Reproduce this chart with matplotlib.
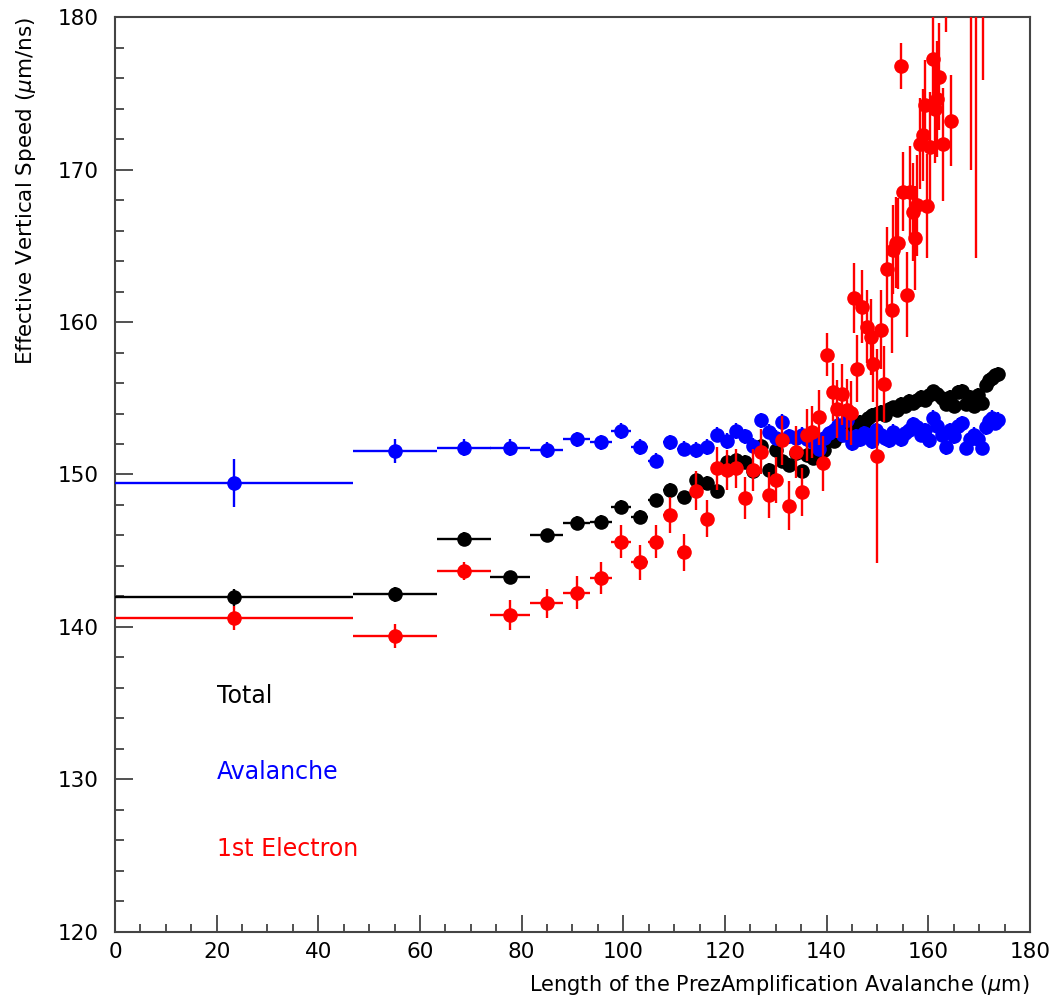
import matplotlib
matplotlib.use("Agg")
import matplotlib.pyplot as plt
from matplotlib.ticker import MultipleLocator

plt.rcParams['font.family'] = ['DejaVu Sans']

# Shared binning for "Total" and "Avalanche" (bin centres, um)
x_bins = [23.4, 55.05, 68.6, 77.7, 84.9, 90.8, 95.6, 99.6, 103.2, 106.4,
          109.2, 111.9, 114.3, 116.4, 118.4, 120.3, 122.2, 123.9, 125.6, 127.0,
          128.6, 130.0, 131.3, 132.6, 133.9, 135.1, 136.2, 137.3, 138.4, 139.4,
          140.4, 141.4, 142.3, 143.2, 144.1, 145.0, 145.8, 146.6, 147.4, 148.2,
          149.0, 149.8, 150.6, 151.4, 152.2, 153.0, 153.8, 154.6, 155.4, 156.2,
          157.0, 157.8, 158.6, 159.4, 160.2, 161.0, 161.8, 162.6, 163.4, 164.2,
          165.0, 165.8, 166.6, 167.4, 168.2, 169.0, 169.8, 170.6, 171.4, 172.0,
          172.6, 173.2, 173.7]
# Half bin widths
x_half = [23.4, 8.25, 5.3, 3.85, 3.3, 2.6, 2.2, 1.95, 1.7, 1.5,
          1.4, 1.3, 1.1, 1.0, 0.95, 0.9, 0.9, 0.85, 0.8, 0.75,
          0.7, 0.7, 0.65, 0.65, 0.6, 0.6, 0.55, 0.55, 0.5, 0.5,
          0.5, 0.5, 0.45, 0.45, 0.45, 0.45, 0.4, 0.4, 0.4, 0.4,
          0.4, 0.4, 0.4, 0.4, 0.4, 0.4, 0.4, 0.4, 0.4, 0.4,
          0.4, 0.4, 0.4, 0.4, 0.4, 0.4, 0.4, 0.4, 0.4, 0.4,
          0.4, 0.4, 0.4, 0.4, 0.4, 0.4, 0.4, 0.4, 0.35, 0.3,
          0.3, 0.3, 0.25]

total_speed = [141.95, 142.15, 145.8, 143.25, 146.0, 146.8, 146.9, 147.9, 147.2, 148.3,
               149.0, 148.5, 149.65, 149.45, 148.95, 150.8, 150.95, 150.8, 150.2, 151.9,
               150.3, 151.6, 150.9, 150.6, 151.4, 150.2, 151.3, 151.1, 151.05, 151.6,
               152.3, 152.2, 152.5, 152.7, 152.9, 153.3, 152.9, 153.45, 153.4, 153.7,
               153.9, 154.0, 154.1, 153.9, 154.3, 154.4, 154.2, 154.6, 154.5, 154.8,
               154.7, 154.9, 155.1, 154.9, 155.2, 155.45, 155.3, 155.0, 154.6, 155.1,
               154.5, 155.4, 155.5, 154.6, 155.1, 154.5, 155.2, 154.7, 155.9, 156.2,
               156.35, 156.5, 156.6]
total_err = [0.55, 0.5, 0.45, 0.45, 0.45, 0.45, 0.45, 0.45, 0.45, 0.45,
             0.45, 0.45, 0.45, 0.45, 0.45, 0.45, 0.45, 0.45, 0.45, 0.45,
             0.45, 0.45, 0.45, 0.45, 0.45, 0.45, 0.45, 0.45, 0.45, 0.45,
             0.45, 0.45, 0.45, 0.45, 0.45, 0.45, 0.45, 0.45, 0.45, 0.45,
             0.45, 0.45, 0.45, 0.45, 0.45, 0.45, 0.45, 0.45, 0.45, 0.45,
             0.45, 0.45, 0.45, 0.45, 0.45, 0.45, 0.45, 0.45, 0.45, 0.45,
             0.45, 0.45, 0.45, 0.45, 0.45, 0.45, 0.45, 0.45, 0.45, 0.45,
             0.45, 0.45, 0.45]

avalanche_speed = [149.45, 151.55, 151.75, 151.75, 151.6, 152.3, 152.1, 152.85, 151.8, 150.9,
                   152.1, 151.7, 151.6, 151.8, 152.6, 152.2, 152.85, 152.5, 151.9, 153.55,
                   152.8, 152.4, 153.45, 152.5, 152.4, 152.6, 152.3, 152.15, 151.7, 152.4,
                   152.7, 152.9, 153.25, 152.6, 153.55, 152.05, 152.5, 152.3, 152.7, 152.5,
                   152.2, 152.9, 152.6, 152.4, 152.25, 152.8, 152.5, 152.3, 152.7, 152.9,
                   153.3, 153.1, 152.6, 152.9, 152.25, 153.7, 153.2, 152.6, 151.8, 152.9,
                   152.5, 153.2, 153.35, 151.75, 152.3, 152.6, 152.3, 151.75, 153.1, 153.5,
                   153.7, 153.4, 153.6]
avalanche_err = [1.55, 0.8, 0.55, 0.55, 0.55, 0.5, 0.5, 0.5, 0.5, 0.5,
                 0.5, 0.5, 0.5, 0.5, 0.5, 0.5, 0.5, 0.5, 0.5, 0.5,
                 0.5, 0.5, 0.5, 0.5, 0.5, 0.5, 0.5, 0.5, 0.5, 0.5,
                 0.5, 0.5, 0.5, 0.5, 0.5, 0.5, 0.5, 0.5, 0.5, 0.5,
                 0.5, 0.5, 0.5, 0.5, 0.5, 0.5, 0.5, 0.5, 0.5, 0.5,
                 0.5, 0.5, 0.5, 0.5, 0.5, 0.5, 0.5, 0.5, 0.5, 0.5,
                 0.5, 0.5, 0.5, 0.5, 0.5, 0.5, 0.5, 0.5, 0.5, 0.5,
                 0.5, 0.5, 0.5]

# "1st Electron" series
x_elec = [23.4, 55.05, 68.6, 77.7, 84.9, 90.8, 95.6, 99.6, 103.2, 106.4,
          109.2, 111.9, 114.3, 116.4, 118.4, 120.3, 122.2, 123.9, 125.6, 127.0,
          128.6, 130.0, 131.3, 132.6, 133.9, 135.1, 136.2, 137.1, 138.4, 139.3,
          140.1, 141.3, 142.0, 143.0, 144.0, 144.7, 145.3, 146.0, 146.9, 147.9,
          148.7, 149.2, 150.0, 150.6, 151.3, 151.8, 152.8, 153.1, 153.6, 154.1,
          154.6, 155.1, 155.8, 156.4, 156.9, 157.4, 157.7, 158.3, 158.9, 159.4,
          159.7, 160.3, 160.9, 161.3, 161.8, 162.2, 162.8, 163.5, 164.4, 168.4,
          169.4, 170.8]
x_elec_half = [23.4, 8.25, 5.3, 3.85, 3.3, 2.6, 2.2, 1.95, 1.7, 1.5,
               1.4, 1.3, 1.1, 1.0, 0.95, 0.9, 0.9, 0.85, 0.8, 0.75,
               0.7, 0.7, 0.65, 0.65, 0.6, 0.6, 0.55, 0.55, 0.5, 0.5,
               0.5, 0.5, 0.45, 0.45, 0.45, 0.45, 0.4, 0.4, 0.4, 0.4,
               0.4, 0.4, 0.4, 0.4, 0.4, 0.4, 0.4, 0.4, 0.4, 0.4,
               0.4, 0.4, 0.4, 0.4, 0.4, 0.4, 0.4, 0.4, 0.4, 0.4,
               0.4, 0.4, 0.4, 0.4, 0.4, 0.4, 0.4, 0.4, 0.4, 0.4,
               0.4, 0.4]
elec_speed = [140.6, 139.4, 143.65, 140.8, 141.55, 142.25, 143.2, 145.6, 144.25, 145.6,
              147.35, 144.9, 148.95, 147.1, 150.4, 150.3, 150.4, 148.45, 150.3, 151.5,
              148.65, 149.65, 152.25, 147.95, 151.5, 148.85, 152.6, 152.8, 153.75, 150.75,
              157.85, 155.4, 154.3, 155.25, 154.25, 154.05, 161.6, 156.95, 161.0, 159.7,
              159.0, 157.25, 151.2, 159.5, 155.95, 163.45, 160.8, 164.75, 165.2, 165.15,
              176.8, 168.55, 161.8, 168.55, 167.2, 165.5, 167.65, 171.7, 172.25, 174.2,
              167.6, 171.5, 177.25, 174.0, 174.6, 176.1, 171.65, 182.0, 173.2, 187.0,
              192.0, 184.5]
elec_err = [0.8, 0.8, 0.6, 1.0, 0.95, 1.1, 1.05, 1.1, 1.15, 1.1,
            1.2, 1.2, 1.25, 1.2, 1.4, 1.3, 1.3, 1.4, 1.4, 1.5,
            1.5, 1.5, 1.6, 1.6, 1.7, 1.6, 1.7, 1.7, 1.8, 1.8,
            1.4, 1.9, 1.9, 2.0, 2.0, 2.1, 2.3, 2.2, 2.4, 2.4,
            2.5, 2.5, 7.0, 2.6, 2.5, 2.8, 2.8, 2.9, 3.0, 3.0,
            1.5, 2.6, 2.8, 3.0, 3.2, 3.4, 3.3, 3.0, 3.0, 3.0,
            3.4, 3.6, 3.5, 3.6, 3.8, 3.5, 3.7, 3.0, 3.0, 17.0,
            27.8, 8.6]

legend_labels = ["Total", "Avalanche", "1st Electron"]
legend_y = [135, 130, 125]
series_colors = ["#000000", "#0000ff", "#ff0000"]

fig = plt.figure(figsize=(10.54, 10.02), dpi=100)
ax = fig.add_axes([0.1091, 0.0699, 0.8681, 0.9131])

style = dict(fmt='o', ms=10.5, mew=0, elinewidth=1.7, capsize=0)
ax.errorbar(x_bins, total_speed, yerr=total_err, xerr=x_half,
            color=series_colors[0], zorder=3, **style)
ax.errorbar(x_bins, avalanche_speed, yerr=avalanche_err, xerr=x_half,
            color=series_colors[1], zorder=4, **style)
ax.errorbar(x_elec, elec_speed, yerr=elec_err, xerr=x_elec_half,
            color=series_colors[2], zorder=5, **style)

for label, yv, c in zip(legend_labels, legend_y, series_colors):
    ax.text(20, yv, label, color=c, fontsize=17, va='baseline', ha='left')

ax.set_xlim(0, 180)
ax.set_ylim(120, 180)
ax.xaxis.set_major_locator(MultipleLocator(20))
ax.xaxis.set_minor_locator(MultipleLocator(5))
ax.yaxis.set_major_locator(MultipleLocator(10))
ax.yaxis.set_minor_locator(MultipleLocator(2))
ax.tick_params(which='both', direction='in', top=False, right=False,
               labelsize=15.5, width=1.2, color='#333333')
ax.tick_params(axis='y', which='major', length=13, pad=12)
ax.tick_params(axis='y', which='minor', length=6.5)
ax.tick_params(axis='x', which='major', length=12, pad=7)
ax.tick_params(axis='x', which='minor', length=6)
for sp in ax.spines.values():
    sp.set_linewidth(1.5)
    sp.set_color('#444444')

ax.set_xlabel(r'Length of the PrezAmplification Avalanche ($\mu$m)',
              fontsize=15, loc='right', labelpad=8)
ax.set_ylabel(r'Effective Vertical Speed ($\mu$m/ns)',
              fontsize=15.5, loc='top', labelpad=14)

fig.savefig("out.png", dpi=100)
